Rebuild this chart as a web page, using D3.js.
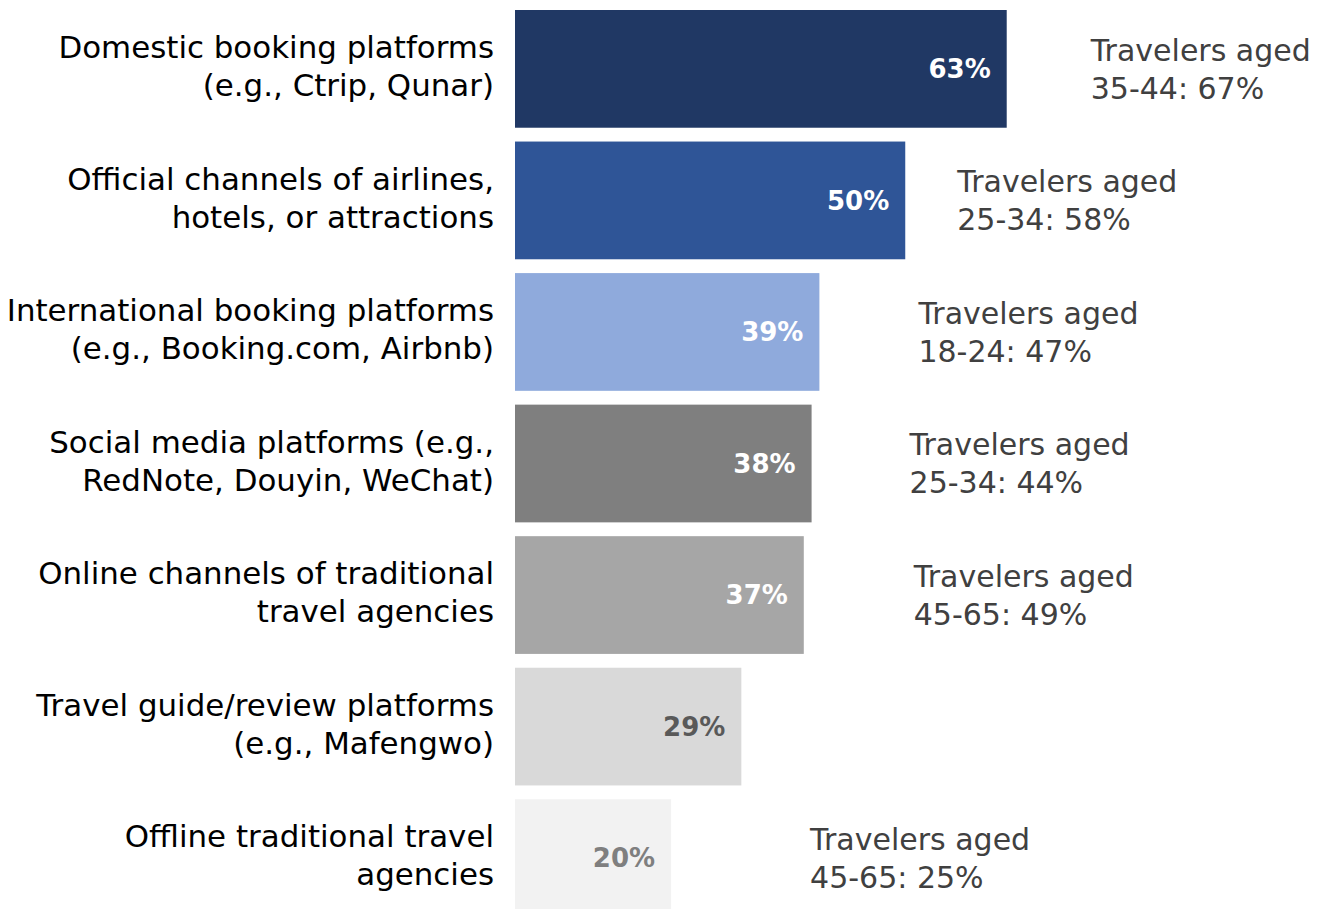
<!DOCTYPE html>
<html>
<head>
<meta charset="utf-8">
<script src="https://cdn.jsdelivr.net/npm/d3@7"></script>
<style>
  html, body { margin: 0; padding: 0; background: #fff; }
  svg { display: block; }
  text { font-family: "Century Gothic", "DejaVu Sans", sans-serif; }
</style>
</head>
<body>
<svg id="chart" width="1331" height="909"></svg>
<script>
// ---- data ----
const categories = [
  ["Domestic booking platforms", "(e.g., Ctrip, Qunar)"],
  ["Official channels of airlines,", "hotels, or attractions"],
  ["International booking platforms", "(e.g., Booking.com, Airbnb)"],
  ["Social media platforms (e.g.,", "RedNote, Douyin, WeChat)"],
  ["Online channels of traditional", "travel agencies"],
  ["Travel guide/review platforms", "(e.g., Mafengwo)"],
  ["Offline traditional travel", "agencies"]
];
const values = [63, 50, 39, 38, 37, 29, 20];
const annotations = [
  ["Travelers aged", "35-44: 67%"],
  ["Travelers aged", "25-34: 58%"],
  ["Travelers aged", "18-24: 47%"],
  ["Travelers aged", "25-34: 44%"],
  ["Travelers aged", "45-65: 49%"],
  null,
  ["Travelers aged", "45-65: 25%"]
];

// ---- style / layout ----
const barColors = ["#203864", "#2F5597", "#8FAADC", "#7F7F7F", "#A6A6A6", "#D9D9D9", "#F2F2F2"];
const valueColors = ["#ffffff", "#ffffff", "#ffffff", "#ffffff", "#ffffff", "#595959", "#7F7F7F"];
const annotOffset = [84, 52, 99, 98, 110, 0, 139]; // gap from bar end to annotation text

const svg = d3.select("#chart");
const ids = categories.map((c, i) => i);

const x = d3.scaleLinear().domain([0, 100]).range([515, 515 + 780.5]);
const y = d3.scaleBand().domain(ids).range([10, 917]).paddingInner(0.105).paddingOuter(0);

const g = svg.append("g");

// bars
g.selectAll("rect.bar").data(values).join("rect")
  .attr("class", "bar")
  .attr("x", x(0))
  .attr("y", (d, i) => y(i))
  .attr("width", d => x(d) - x(0))
  .attr("height", y.bandwidth())
  .attr("fill", (d, i) => barColors[i]);

// value labels
g.selectAll("text.val").data(values).join("text")
  .attr("class", "val")
  .attr("x", d => x(d) - 16)
  .attr("y", (d, i) => y(i) + y.bandwidth() / 2)
  .attr("dy", "0.36em")
  .attr("text-anchor", "end")
  .attr("font-size", 26)
  .attr("font-weight", "bold")
  .attr("fill", (d, i) => valueColors[i])
  .text(d => d + "%");

// category labels
const lineH = 38;
g.selectAll("text.cat").data(categories).join("text")
  .attr("class", "cat")
  .attr("text-anchor", "end")
  .attr("font-size", 30.9)
  .attr("fill", "#000")
  .each(function(lines, i) {
    const t = d3.select(this);
    const cy = y(i) + y.bandwidth() / 2 - 3;
    lines.forEach((ln, j) => {
      t.append("tspan")
        .attr("x", 494)
        .attr("y", cy + (j - (lines.length - 1) / 2) * lineH)
        .attr("dy", "0.36em")
        .text(ln);
    });
  });

// annotations
g.selectAll("text.ann").data(annotations).join("text")
  .attr("class", "ann")
  .attr("font-size", 30)
  .attr("fill", "#404040")
  .each(function(lines, i) {
    if (!lines) return;
    const t = d3.select(this);
    const cy = y(i) + y.bandwidth() / 2;
    lines.forEach((ln, j) => {
      t.append("tspan")
        .attr("x", x(values[i]) + annotOffset[i])
        .attr("y", cy + (j - (lines.length - 1) / 2) * lineH)
        .attr("dy", "0.36em")
        .text(ln);
    });
  });
</script>
</body>
</html>
